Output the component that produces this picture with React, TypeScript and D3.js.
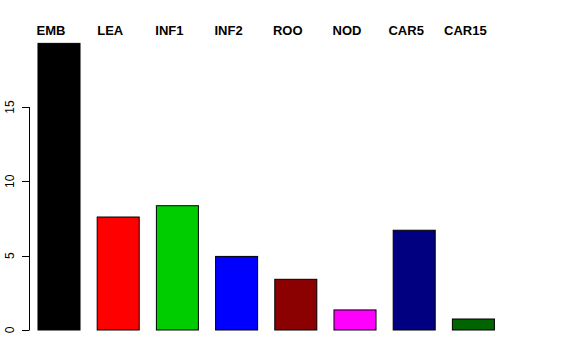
import React from "react";
import * as d3 from "d3";

const categories = ["EMB", "LEA", "INF1", "INF2", "ROO", "NOD", "CAR5", "CAR15"];
const values = [19.28, 7.6, 8.36, 4.95, 3.41, 1.35, 6.71, 0.74];
const colors = ["#000000", "#FF0000", "#00CD00", "#0000FF", "#8B0000", "#FF00FF", "#000080", "#006400"];
const yTicks = [0, 5, 10, 15];

const W = 576;
const H = 360;

export default function App() {
  const x = d3
    .scaleBand<string>()
    .domain(categories)
    .range([29.4, 503])
    .paddingInner(0.29)
    .paddingOuter(0.145);
  const y = d3.scaleLinear().domain([0, 15]).range([330, 107]);
  const font = "'Liberation Sans', Arial, Helvetica, sans-serif";

  return (
    <svg
      width={W}
      height={H}
      style={{ position: "absolute", left: 0, top: 0, background: "#fff" }}
      fontFamily={font}
    >
      <rect width={W} height={H} fill="#fff" />
      {categories.map((c, i) => (
        <rect
          key={c}
          x={x(c)!}
          y={y(values[i])}
          width={x.bandwidth()}
          height={y(0) - y(values[i])}
          fill={colors[i]}
          stroke="#000"
          strokeWidth={1}
        />
      ))}
      {categories.map((c) => (
        <text
          key={c + "l"}
          x={x(c)! + x.bandwidth() / 2 - 8}
          y={35}
          textAnchor="middle"
          fontWeight="bold"
          fontSize={13}
          fill="#000"
        >
          {c}
        </text>
      ))}
      <line x1={29.5} x2={29.5} y1={y(0)} y2={y(15)} stroke="#000" />
      {yTicks.map((t) => (
        <g key={t}>
          <line x1={22} x2={29.5} y1={Math.round(y(t)) + 0.5} y2={Math.round(y(t)) + 0.5} stroke="#000" />
          <text
            transform={`translate(14,${y(t)}) rotate(-90)`}
            textAnchor="middle"
            fontSize={12}
            fill="#000"
          >
            {t}
          </text>
        </g>
      ))}
    </svg>
  );
}
